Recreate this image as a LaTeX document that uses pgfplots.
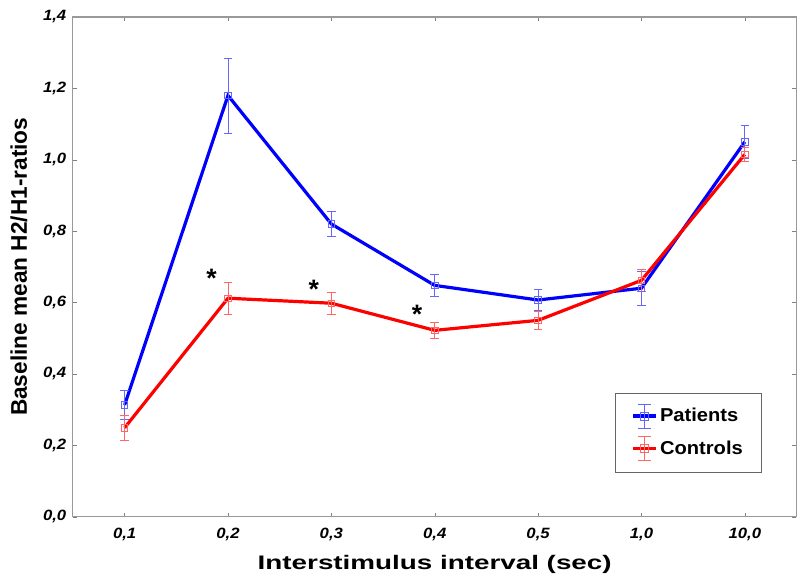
\documentclass[border=0pt]{standalone}
\usepackage{pgfplots}
\pgfplotsset{compat=1.18}
\usepackage{fontspec}
\setmainfont{Liberation Sans}
\newfontfamily\widefont{Liberation Sans}[FakeStretch=1.42]
\newfontfamily\legfont{Liberation Sans}[FakeStretch=1.08]
\newfontfamily\tickfont{Liberation Sans}[FakeStretch=1.12]
\usetikzlibrary{calc}

\pgfplotsset{
  errleg/.style={
    legend image code/.code={
      \draw[line width=2.4pt] (0pt,0pt) -- (17pt,0pt);
      \draw[line width=0.6pt,#1] (8.5pt,-9pt) -- (8.5pt,9pt)
        (3.5pt,-9pt) -- (13.5pt,-9pt) (3.5pt,9pt) -- (13.5pt,9pt)
        (5.5pt,-3pt) rectangle (11.5pt,3pt);
    }
  }
}

\begin{document}
\begin{tikzpicture}
\begin{axis}[
    scale only axis,
    width=543pt, height=375pt,
    xmin=-0.5, xmax=6.5,
    ymin=0, ymax=1.4,
    xtick={0,...,6},
    xticklabels={{0,1},{0,2},{0,3},{0,4},{0,5},{1,0},{10,0}},
    ytick={0,0.2,...,1.4},
    /pgf/number format/.cd, use comma, fixed, fixed zerofill, precision=1, assume math mode=true,
    /pgfplots/.cd,
    tick label style={font=\tickfont\fontsize{11.2}{13}\selectfont\bfseries\itshape},
    xticklabel style={yshift=-5pt},
    yticklabel style={xshift=-1.5pt},
    tick align=inside,
    major tick length=3pt,
    tick style={gray},
    axis line style={gray!80, line width=0.8pt},
    xlabel={Interstimulus interval (sec)},
    ylabel={Baseline mean H2/H1-ratios},
    xlabel style={font=\widefont\fontsize{14.7}{16}\selectfont\bfseries,
      at={(axis description cs:0.5,-0.096)}, anchor=center},
    ylabel style={font=\fontsize{17}{18}\selectfont\bfseries,
      at={(axis description cs:-0.0746,0.5)}, anchor=center},
    legend cell align=left,
    legend style={at={(0.952,0.248)}, anchor=north east, draw=gray!80!black,
      font=\legfont\fontsize{14}{16}\selectfont\bfseries,
      inner xsep=12pt, inner ysep=8pt, row sep=6pt},
]
\addplot[blue, line width=2.4pt, errleg=blue!60,
    mark=square, mark size=2.4pt, mark options={draw=blue!60, line width=0.6pt},
    error bars/.cd, y dir=both, y explicit,
    error bar style={line width=0.6pt, blue!60},
    error mark options={rotate=90, mark size=3.2pt, line width=0.6pt, blue!60}]
  coordinates {
    (0,0.313) +- (0,0.040)
    (1,1.180) +- (0,0.105)
    (2,0.820) +- (0,0.035)
    (3,0.648) +- (0,0.032)
    (4,0.607) +- (0,0.030)
    (5,0.640) +- (0,0.048)
    (6,1.050) +- (0,0.045)
  };
\addlegendentry{Patients}
\addplot[red, line width=2.4pt, errleg=red!60,
    mark=square, mark size=2.4pt, mark options={draw=red!60, line width=0.6pt},
    error bars/.cd, y dir=both, y explicit,
    error bar style={line width=0.6pt, red!60},
    error mark options={rotate=90, mark size=3.2pt, line width=0.6pt, red!60}]
  coordinates {
    (0,0.249) +- (0,0.035)
    (1,0.612) +- (0,0.045)
    (2,0.598) +- (0,0.030)
    (3,0.522) +- (0,0.022)
    (4,0.550) +- (0,0.025)
    (5,0.662) +- (0,0.030)
    (6,1.015) +- (0,0.020)
  };
\addlegendentry{Controls}
\node[font=\fontsize{20}{20}\selectfont\bfseries, anchor=base] at (axis cs:0.84,0.643) {*};
\node[font=\fontsize{20}{20}\selectfont\bfseries, anchor=base] at (axis cs:1.83,0.612) {*};
\node[font=\fontsize{20}{20}\selectfont\bfseries, anchor=base] at (axis cs:2.83,0.542) {*};
\end{axis}
\pgfresetboundingbox
\path ($(current axis.south west)+(-54.75pt,-44.25pt)$) rectangle ($(current axis.north east)+(0.4pt,12.75pt)$);
\end{tikzpicture}
\end{document}
